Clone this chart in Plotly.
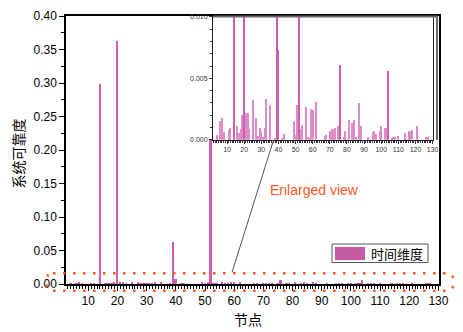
import plotly.graph_objects as go

# ---- data ----
nodes = [4, 6, 7, 8, 11, 12, 14, 16, 17, 18, 19, 20, 21, 22, 23, 25, 27, 28, 29, 30,
         31, 32, 33, 35, 38, 39, 40, 42, 43, 49, 50, 51, 52, 53, 54, 56, 57, 58, 59, 60,
         62, 67, 68, 70, 71, 72, 73, 75, 76, 78, 79, 81, 83, 84, 85, 87, 88, 92, 95, 96,
         97, 99, 100, 102, 103, 104, 106, 107, 108, 110, 114, 116, 117, 118, 121, 126, 127]
reliability = [0.0004, 0.0015, 0.00175, 0.00063, 0.00077, 0.00093, 0.298, 0.00116, 0.00058, 0.00085,
               0.00206, 0.362, 0.0022, 0.0022, 0.00085, 0.00325, 0.0018, 0.0003, 0.00095, 0.00074,
               0.0002, 0.001, 0.0033, 0.00286, 0.0001, 0.062, 0.00728, 0.00015, 0.0005, 0.00153,
               0.0004, 0.0028, 0.216, 0.00087, 0.0012, 0.0027, 0.0002, 0.00015, 0.0025, 0.0024,
               0.0031, 0.0003, 0.0004, 0.00074, 0.00085, 0.0009, 0.001, 0.00116, 0.0061, 0.0002,
               0.00074, 0.0016, 0.0014, 0.0016, 0.00026, 0.003, 0.00114, 0.0002, 0.0006, 0.00069,
               0.00048, 0.00074, 0.0011, 0.001, 0.001, 0.0056, 0.00015, 0.0002, 0.00026, 0.00034,
               0.00055, 0.0007, 0.0007, 0.0008, 0.0011, 0.00026, 0.00026]
series_name = "时间维度"
x_title = "节点"
y_title = "系统可靠度"
note_text = "Enlarged view"

# ---- layout geometry (pixels) ----
W, H = 463, 332
ML, MR, MT, MB = 66, 24, 9, 48
PW, PH = W - ML - MR, H - MT - MB


def px(x):
    return (x - ML) / PW


def py(y):
    return (H - MB - y) / PH


BAR = '#CD5FAE'
LIGHT = '#DE8CC8'
RED = '#FF5722'
CJK = 'Noto Sans CJK SC'

fig = go.Figure()
fig.add_trace(go.Bar(x=nodes, y=reliability, width=0.6, marker=dict(color=BAR, line=dict(width=0)),
                     name=series_name, showlegend=False, xaxis='x', yaxis='y'))
inset_colors = [BAR if v >= 0.004 else LIGHT for v in reliability]
fig.add_trace(go.Bar(x=nodes, y=reliability, width=0.6, marker=dict(color=inset_colors, line=dict(width=0)),
                     showlegend=False, xaxis='x2', yaxis='y2'))

tickfont = dict(family='Liberation Sans, Arial', size=12, color='black')
small = dict(family='Liberation Sans, Arial', size=7, color='#333')

fig.update_layout(
    width=W, height=H, margin=dict(l=ML, r=MR, t=MT, b=MB),
    paper_bgcolor='white', plot_bgcolor='rgba(0,0,0,0)',
    bargap=0,
    xaxis=dict(domain=[0, 1], range=[2.36, 130.2], tick0=0, dtick=10, ticks='outside', ticklen=5,
               tickwidth=1, tickcolor='black', showline=True, linecolor='black', linewidth=1.5,
               mirror=True, showgrid=False, zeroline=False, tickfont=tickfont,
               minor=dict(dtick=1, tick0=0, ticks='outside', ticklen=3, tickcolor='black', showgrid=False)),
    yaxis=dict(domain=[0, 1], range=[0, 0.40], tick0=0, dtick=0.05, tickformat='.2f', ticks='outside',
               ticklen=5, tickwidth=1, tickcolor='black', showline=True, linecolor='black', linewidth=1.5,
               mirror=True, showgrid=False, zeroline=False, tickfont=tickfont,
               minor=dict(dtick=0.025, ticks='outside', ticklen=3, tickcolor='black', showgrid=False)),
    xaxis2=dict(domain=[px(213), px(433)], anchor='y2', range=[1.8, 130.2], tick0=0, dtick=10,
                ticks='outside', ticklen=3, tickwidth=0.8, tickcolor='#333', showline=True,
                linecolor='#222', linewidth=1, mirror=True, showgrid=False, zeroline=False,
                tickfont=small, ticklabelstandoff=0,
                minor=dict(dtick=1, tick0=0, ticks='outside', ticklen=2, tickcolor='#333', showgrid=False)),
    yaxis2=dict(domain=[py(136), py(10)], anchor='x2', range=[0, 0.010], tick0=0, dtick=0.005,
                tickformat='.3f', ticks='outside', ticklen=3, tickwidth=0.8, tickcolor='#333',
                showline=True, linecolor='#222', linewidth=1, mirror=True, showgrid=False,
                zeroline=False, tickfont=small,
                minor=dict(dtick=0.001, ticks='outside', ticklen=2, tickcolor='#333', showgrid=False)),
    showlegend=False,
)

shapes = []
# inset shadow frame (top and right)
shapes.append(dict(type='path', xref='paper', yref='paper', layer='above',
                   path=f"M {px(213)},{py(9.5)} L {px(437)},{py(9.5)} L {px(437)},{py(136)}",
                   line=dict(color='#666', width=2)))
# dotted rounded rectangle
x0, x1, y0, y1, r = 47, 453, 273, 291, 6
pth = (f"M {px(x0 + r)},{py(y0)} L {px(x1 - r)},{py(y0)} Q {px(x1)},{py(y0)} {px(x1)},{py(y0 + r)} "
       f"L {px(x1)},{py(y1 - r)} Q {px(x1)},{py(y1)} {px(x1 - r)},{py(y1)} L {px(x0 + r)},{py(y1)} "
       f"Q {px(x0)},{py(y1)} {px(x0)},{py(y1 - r)} L {px(x0)},{py(y0 + r)} Q {px(x0)},{py(y0)} {px(x0 + r)},{py(y0)} Z")
shapes.append(dict(type='path', xref='paper', yref='paper', layer='above', path=pth,
                   line=dict(color=RED, width=2.5, dash='2.5px,7.5px')))
# pointer line
shapes.append(dict(type='line', xref='paper', yref='paper', layer='above',
                   x0=px(232), y0=py(272), x1=px(273), y1=py(138), line=dict(color='#555', width=1)))
# manual legend
shapes.append(dict(type='rect', xref='paper', yref='paper', layer='above',
                   x0=px(332), x1=px(428), y0=py(243), y1=py(262),
                   line=dict(color='#555', width=1), fillcolor='white'))
shapes.append(dict(type='rect', xref='paper', yref='paper', layer='above',
                   x0=px(335), x1=px(365), y0=py(246), y1=py(259.5),
                   line=dict(width=0), fillcolor='#C45CA5'))
fig.update_layout(shapes=shapes)

annotations = [
    dict(text=series_name, xref='paper', yref='paper', x=px(369), y=py(252.5), xanchor='left',
         yanchor='middle', showarrow=False, font=dict(family=CJK, size=13, color='black')),
    dict(text=note_text, xref='paper', yref='paper', x=px(314), y=py(188), xanchor='center',
         yanchor='middle', showarrow=False, font=dict(family='Liberation Sans, Arial', size=14, color=RED)),
    dict(text=x_title, xref='paper', yref='paper', x=px(248), y=py(320), xanchor='center',
         yanchor='middle', showarrow=False, font=dict(family=CJK, size=14, color='black')),
    dict(text=y_title, xref='paper', yref='paper', x=px(18), y=py(150), xanchor='center',
         yanchor='middle', textangle=-90, showarrow=False, font=dict(family=CJK, size=14, color='black')),
]
fig.update_layout(annotations=annotations)

fig.write_html("out.html")
